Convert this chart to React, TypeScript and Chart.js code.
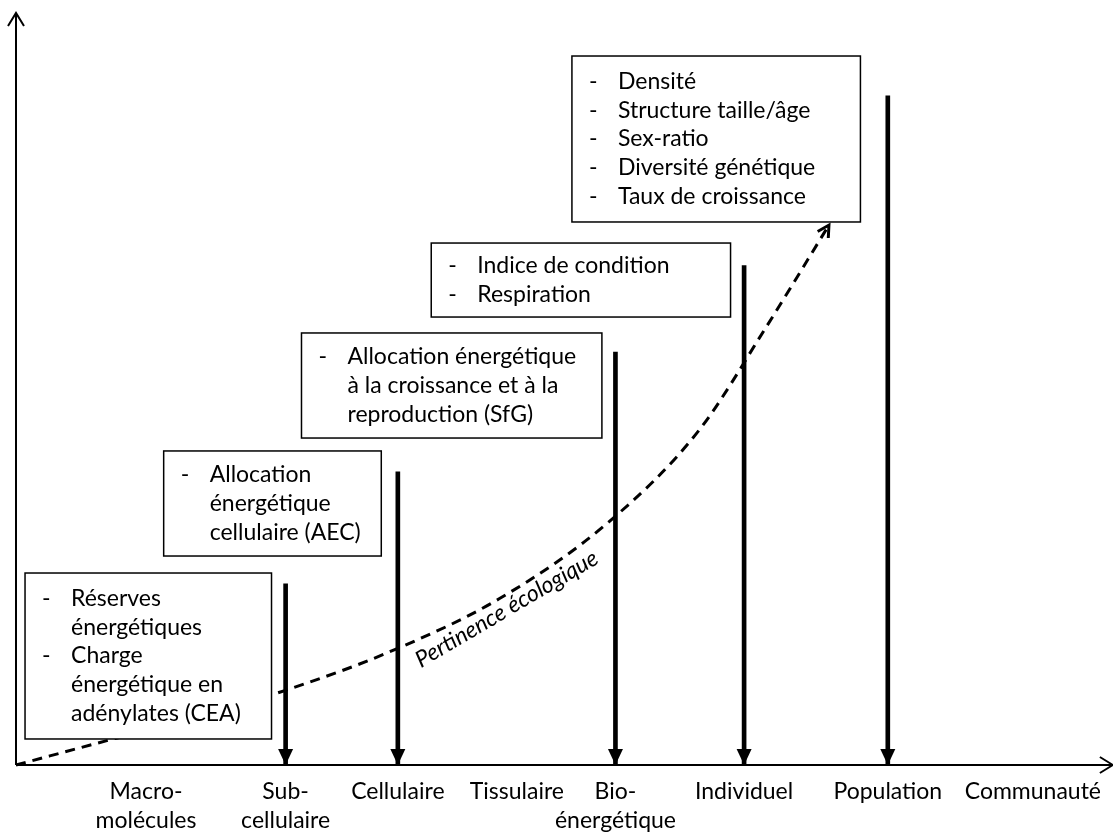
import React, { useEffect, useRef } from "react";
import { Chart, registerables } from "chart.js";

Chart.register(...registerables);

// ---- Data ----
const levelLabels: string[][] = [
  ["Macro-", "molécules"],
  ["Sub-", "cellulaire"],
  ["Cellulaire"],
  ["Tissulaire"],
  ["Bio-", "énergétique"],
  ["Individuel"],
  ["Population"],
  ["Communauté"],
];
// position of each organisation level along the horizontal axis (axis runs 0..8)
const levelPositions = [0.95, 1.97, 2.79, 3.66, 4.38, 5.32, 6.37, 7.43];

// vertical arrows: index of the level and height (0..100) of their top
const arrowLevels = [1, 2, 4, 5, 6];
const arrowHeights = [24.1, 39.0, 54.9, 66.4, 89.0];

// dashed "Pertinence écologique" curve
const curveX = [0, 0.74, 1.34, 1.98, 2.71, 3.53, 4.33, 4.99, 5.48, 5.94];
const curveY = [0, 3.6, 6.4, 10.0, 14.9, 22.1, 32.3, 44.5, 58.2, 71.8];

// biomarker boxes (text)
const boxTexts: string[][] = [
  ["-|Réserves", "énergétiques", "-|Charge", "énergétique en", "adénylates (CEA)"],
  ["-|Allocation", "énergétique", "cellulaire (AEC)"],
  ["-|Allocation énergétique", "à la croissance et à la", "reproduction (SfG)"],
  ["-|Indice de condition", "-|Respiration"],
  ["-|Densité", "-|Structure taille/âge", "-|Sex-ratio", "-|Diversité génétique", "-|Taux de croissance"],
];
// box extents in axis units: [x0, x1, yTop, yBottom]
const boxExtents: number[][] = [
  [0.066, 1.867, 25.53, 3.46],
  [1.079, 2.669, 41.76, 27.79],
  [2.086, 4.281, 57.45, 43.48],
  [3.034, 5.221, 69.41, 59.57],
  [4.062, 6.17, 94.28, 72.21],
];

const curveLabel = "Pertinence écologique";
const curveLabelPos = [3.613, 19.9];

const FONT = "Lato";

const drawPlugin = {
  id: "schema",
  beforeDatasetsDraw(chart: any) {
    const { ctx, chartArea } = chart;
    const { left, right, top, bottom } = chartArea;
    ctx.save();
    ctx.strokeStyle = "#000";
    ctx.lineWidth = 2;
    ctx.lineCap = "butt";
    // y axis
    ctx.beginPath();
    ctx.moveTo(left, bottom);
    ctx.lineTo(left, top);
    ctx.stroke();
    ctx.beginPath();
    ctx.moveTo(left - 8, top + 13);
    ctx.lineTo(left, top);
    ctx.lineTo(left + 8, top + 13);
    ctx.stroke();
    // x axis
    ctx.beginPath();
    ctx.moveTo(left, bottom);
    ctx.lineTo(right + 2, bottom);
    ctx.stroke();
    ctx.beginPath();
    ctx.moveTo(right + 2 - 13, bottom - 8);
    ctx.lineTo(right + 2, bottom);
    ctx.lineTo(right + 2 - 13, bottom + 8);
    ctx.stroke();
    ctx.restore();
  },
  afterDatasetsDraw(chart: any) {
    const { ctx, scales } = chart;
    const xs = scales.x;
    const ys = scales.y;
    ctx.save();
    // arrowheads of vertical arrows
    ctx.fillStyle = "#000";
    arrowLevels.forEach((l) => {
      const px = xs.getPixelForValue(levelPositions[l]);
      const py = ys.getPixelForValue(0);
      ctx.beginPath();
      ctx.moveTo(px - 7.5, py - 16);
      ctx.lineTo(px + 7.5, py - 16);
      ctx.lineTo(px, py);
      ctx.closePath();
      ctx.fill();
    });
    // arrowhead of dashed curve
    const n = curveX.length;
    const tx = xs.getPixelForValue(curveX[n - 1]);
    const ty = ys.getPixelForValue(curveY[n - 1]);
    const sx = xs.getPixelForValue(curveX[n - 2]);
    const sy = ys.getPixelForValue(curveY[n - 2]);
    const ang = Math.atan2(ty - sy, tx - sx);
    ctx.strokeStyle = "#000";
    ctx.lineWidth = 3;
    ctx.setLineDash([]);
    ctx.beginPath();
    const a = 13;
    ctx.moveTo(tx - a * Math.cos(ang - 0.5), ty - a * Math.sin(ang - 0.5));
    ctx.lineTo(tx, ty);
    ctx.lineTo(tx - a * Math.cos(ang + 0.5), ty - a * Math.sin(ang + 0.5));
    ctx.stroke();

    // boxes
    const lh = 28.7;
    boxExtents.forEach((b, i) => {
      const x0 = xs.getPixelForValue(b[0]);
      const x1 = xs.getPixelForValue(b[1]);
      const y0 = ys.getPixelForValue(b[2]);
      const y1 = ys.getPixelForValue(b[3]);
      ctx.fillStyle = "#fff";
      ctx.fillRect(x0, y0, x1 - x0, y1 - y0);
      ctx.strokeStyle = "#000";
      ctx.lineWidth = 1.5;
      ctx.strokeRect(x0, y0, x1 - x0, y1 - y0);
      const lines = boxTexts[i];
      const startY = (y0 + y1) / 2 - (lines.length * lh) / 2;
      ctx.fillStyle = "#000";
      ctx.font = `23px ${FONT}`;
      ctx.textBaseline = "middle";
      ctx.textAlign = "left";
      lines.forEach((ln, j) => {
        const cy = startY + lh * (j + 0.5);
        let txt = ln;
        if (ln.startsWith("-|")) {
          ctx.fillText("-", x0 + 17, cy);
          txt = ln.slice(2);
        }
        ctx.fillText(txt, x0 + 46, cy);
      });
    });

    // curve label (placed just under the dashed curve)
    const lx = xs.getPixelForValue(curveLabelPos[0]);
    const ly = ys.getPixelForValue(curveLabelPos[1]);
    ctx.translate(lx, ly);
    ctx.rotate((-30.5 * Math.PI) / 180);
    ctx.font = `italic 23px ${FONT}`;
    ctx.textAlign = "center";
    ctx.textBaseline = "alphabetic";
    ctx.fillStyle = "#000";
    ctx.fillText(curveLabel, 0, 0);
    ctx.restore();
  },
};

export default function App() {
  const ref = useRef<HTMLCanvasElement | null>(null);
  useEffect(() => {
    if (!ref.current) return;
    const chart = new Chart(ref.current, {
      type: "line",
      data: {
        datasets: [
          {
            type: "line",
            data: curveX.map((x, i) => ({ x, y: curveY[i] })),
            borderColor: "#000",
            borderWidth: 3,
            borderDash: [10, 7],
            pointRadius: 0,
            cubicInterpolationMode: "monotone",
            fill: false,
            clip: false,
          } as any,
          {
            type: "bar",
            data: arrowLevels.map((l, i) => ({ x: levelPositions[l], y: arrowHeights[i] })),
            backgroundColor: "#000",
            borderWidth: 0,
            barThickness: 4,
          } as any,
        ],
      },
      options: {
        animation: false,
        responsive: false,
        devicePixelRatio: 1,
        events: [],
        layout: { padding: { left: 16, right: 0, top: 13, bottom: 0 } },
        plugins: { legend: { display: false }, tooltip: { enabled: false } },
        scales: {
          x: {
            type: "linear",
            min: 0,
            max: 8,
            offset: false,
            grid: { display: false, drawTicks: false, offset: false },
            border: { display: false },
            afterBuildTicks: (scale: any) => {
              scale.ticks = levelPositions.map((v) => ({ value: v }));
            },
            afterFit: (scale: any) => {
              scale.height = 69;
            },
            ticks: {
              autoSkip: false,
              maxRotation: 0,
              minRotation: 0,
              padding: 12,
              color: "#000",
              font: { family: FONT, size: 23, lineHeight: 1.27 },
              callback: (_v: any, i: number) => levelLabels[i],
            },
          },
          y: { type: "linear", min: 0, max: 100, display: false },
        },
      },
      plugins: [drawPlugin],
    } as any);
    return () => chart.destroy();
  }, []);
  return (
    <div style={{ position: "absolute", left: 0, top: 0, width: 1113, height: 834, background: "#fff" }}>
      <canvas ref={ref} width={1113} height={834} />
    </div>
  );
}
